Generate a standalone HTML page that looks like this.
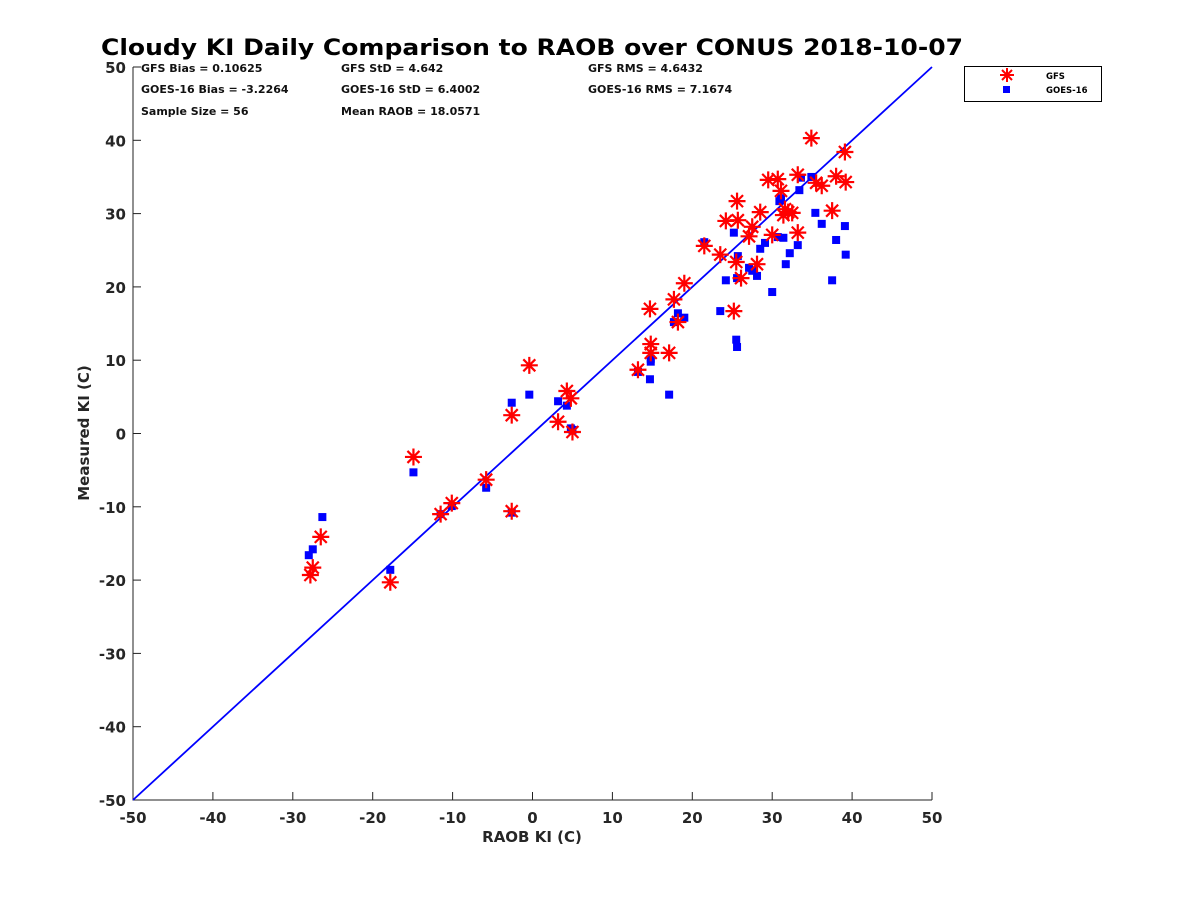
<!DOCTYPE html>
<html><head><meta charset="utf-8"><style>
body{margin:0;background:#fff;}
text{font-family:"DejaVu Sans","Liberation Sans",sans-serif;}
</style></head><body>
<svg id="chart" width="1200" height="900" xmlns="http://www.w3.org/2000/svg">
<rect width="1200" height="900" fill="#fff"/>
<text x="532" y="55" font-size="22" font-weight="bold" text-anchor="middle" fill="#000" textLength="862" lengthAdjust="spacingAndGlyphs">Cloudy KI Daily Comparison to RAOB over CONUS 2018-10-07</text>
<g id="grid"></g>
<g id="marks"></g>
<g font-size="11" font-weight="bold" fill="#111">
<text x="141" y="72">GFS Bias = 0.10625</text>
<text x="341" y="72">GFS StD = 4.642</text>
<text x="588" y="72">GFS RMS = 4.6432</text>
<text x="141" y="93">GOES-16 Bias = -3.2264</text>
<text x="341" y="93">GOES-16 StD = 6.4002</text>
<text x="588" y="93">GOES-16 RMS = 7.1674</text>
<text x="141" y="115">Sample Size = 56</text>
<text x="341" y="115">Mean RAOB = 18.0571</text>
</g>
<g>
<rect x="964.5" y="66.5" width="137" height="35" fill="#fff" stroke="#000" stroke-width="1"/>
<g stroke="#f00" stroke-width="2">
<line x1="1007" y1="68" x2="1007" y2="82"/><line x1="1000" y1="75" x2="1014" y2="75"/><line x1="1002" y1="70" x2="1012" y2="80"/><line x1="1002" y1="80" x2="1012" y2="70"/>
</g>
<text x="1046" y="79" font-size="8.5" font-weight="bold">GFS</text>
<rect x="1003" y="86" width="7" height="7" fill="#00f"/>
<text x="1046" y="93" font-size="8.5" font-weight="bold">GOES-16</text>
</g>
</svg>
<script>
const ticks=[-50,-40,-30,-20,-10,0,10,20,30,40,50];
const gfsX=[-27.8,-27.5,-26.5,-17.8,-14.9,-11.5,-10.1,-5.8,-2.6,-2.6,-0.4,3.2,4.3,4.8,5.0,13.2,14.8,14.7,14.8,17.1,17.7,18.2,19.0,21.5,23.5,24.2,25.2,25.5,25.6,25.7,26.1,27.1,27.5,28.1,28.5,29.5,30.0,30.7,31.1,31.4,31.6,32.0,32.5,33.2,33.2,34.9,35.5,36.2,37.5,38.0,39.1,39.2];
const gfsY=[-19.3,-18.3,-14.1,-20.3,-3.2,-11.0,-9.5,-6.3,2.5,-10.6,9.3,1.6,5.8,4.8,0.2,8.7,11.0,17.0,12.2,11.0,18.3,15.2,20.5,25.6,24.4,29.0,16.7,23.4,31.7,29.1,21.2,26.9,28.2,23.1,30.2,34.6,27.1,34.7,33.1,29.8,30.6,30.2,30.1,27.4,35.3,40.3,34.2,33.8,30.4,35.1,38.4,34.3];
const goesX=[-28.0,-27.5,-26.3,-17.8,-14.9,-11.5,-10.1,-5.8,-2.6,-2.6,-0.4,3.2,4.3,4.8,5.0,13.2,14.7,14.8,14.8,17.1,17.7,18.2,19.0,21.5,23.5,24.2,25.2,25.5,25.6,25.6,25.7,27.1,27.5,28.1,28.5,29.1,30.0,30.7,30.9,31.1,31.4,31.7,32.2,33.2,33.4,33.6,34.9,35.4,36.2,37.5,38.0,39.1,39.2];
const goesY=[-16.6,-15.8,-11.4,-18.6,-5.3,-11.0,-9.9,-7.4,4.2,-10.8,5.3,4.4,3.8,0.7,0.5,8.4,7.4,9.8,10.2,5.3,15.2,16.4,15.8,26.1,16.7,20.9,27.4,12.8,11.8,21.2,24.2,22.6,22.2,21.5,25.2,26.0,19.3,26.8,31.7,32.1,26.7,23.1,24.6,25.7,33.2,34.9,35.0,30.1,28.6,20.9,26.4,28.3,24.4];
const X0=133,X1=932,Y0=800,Y1=67;
const sx=v=>X0+(v+50)/100*(X1-X0);
const sy=v=>Y0-(v+50)/100*(Y0-Y1);
const NS='http://www.w3.org/2000/svg';
function mk(tag,attrs,parent){const e=document.createElementNS(NS,tag);for(const k in attrs)e.setAttribute(k,attrs[k]);parent.appendChild(e);return e;}
const g=document.getElementById('grid'),m=document.getElementById('marks');
let ax=mk('path',{d:`M${X0},${Y1}V${Y0}H${X1}`,stroke:'#222',fill:'none','stroke-width':1},g);


ticks.forEach(t=>{
 mk('line',{x1:sx(t),x2:sx(t),y1:Y0,y2:Y0-8,stroke:'#222'},g);
 mk('line',{x1:X0,x2:X0+8,y1:sy(t),y2:sy(t),stroke:'#222'},g);
 const tx=mk('text',{x:sx(t),y:Y0+23,'font-size':15,'font-weight':'bold','text-anchor':'middle',fill:'#262626'},g);tx.textContent=t;
 
 
 const ty=mk('text',{x:X0-7,y:sy(t)+6,'font-size':15,'font-weight':'bold','text-anchor':'end',fill:'#262626'},g);ty.textContent=t;
 
 
});
const xt=mk('text',{x:532,y:842,'font-size':15,'font-weight':'bold','text-anchor':'middle',fill:'#262626'},g);xt.textContent='RAOB KI (C)';


const yt=mk('text',{x:0,y:0,'font-size':15,'font-weight':'bold','text-anchor':'middle',fill:'#262626',transform:`translate(89,433) rotate(-90)`},g);yt.textContent='Measured KI (C)';


const ol=mk('line',{x1:sx(-50),y1:sy(-50),x2:sx(50),y2:sy(50),stroke:'#00f','stroke-width':1.8},m);


goesX.forEach((v,i)=>{
 const r=mk('rect',{x:sx(v)-4,y:sy(goesY[i])-4,width:8,height:8,fill:'#00f'},m);
 
 
});
gfsX.forEach((v,i)=>{
 const cx=sx(v),cy=sy(gfsY[i]),r=8.5,d=6;
 const p=mk('path',{d:`M${cx},${cy-r}V${cy+r}M${cx-r},${cy}H${cx+r}M${cx-d},${cy-d}L${cx+d},${cy+d}M${cx-d},${cy+d}L${cx+d},${cy-d}`,stroke:'#f00','stroke-width':2.2,fill:'none'},m);
 
 
});
</script>
</body></html>
